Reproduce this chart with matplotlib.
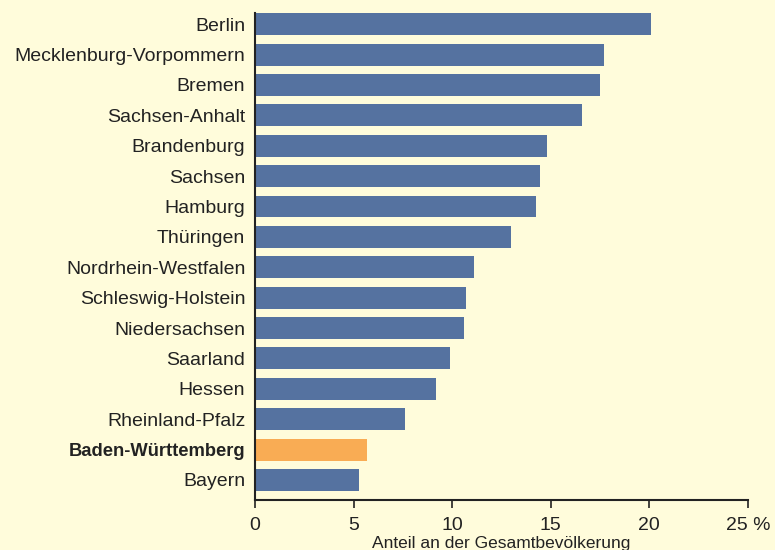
import matplotlib
matplotlib.use("Agg")
import matplotlib.pyplot as plt

states = ["Berlin", "Mecklenburg-Vorpommern", "Bremen", "Sachsen-Anhalt", "Brandenburg",
          "Sachsen", "Hamburg", "Thüringen", "Nordrhein-Westfalen", "Schleswig-Holstein",
          "Niedersachsen", "Saarland", "Hessen", "Rheinland-Pfalz", "Baden-Württemberg", "Bayern"]
values = [20.1, 17.7, 17.5, 16.6, 14.8, 14.45, 14.25, 13.0, 11.1, 10.7, 10.6, 9.9, 9.2, 7.6, 5.7, 5.3]
highlight = "Baden-Württemberg"
xticks = [0, 5, 10, 15, 20, 25]
xticklabels = ["0", "5", "10", "15", "20", "25 %"]
xlabel = "Anteil an der Gesamtbevölkerung"

bg = "#FFFCDB"
blue = "#5572A0"
orange = "#F9AC54"
textc = "#222222"

plt.rcParams['font.family'] = ['Liberation Sans', 'DejaVu Sans']

fig = plt.figure(figsize=(7.75, 5.5), dpi=100, facecolor=bg)
ax = fig.add_axes([0.329, 0.0909, 0.636, 0.885])
ax.set_facecolor(bg)

ypos = list(range(len(states)))
colors = [orange if s == highlight else blue for s in states]
ax.barh(ypos, values, height=0.72, color=colors, zorder=2)

ax.set_ylim(len(states) - 1 + 0.66, -0.36)
ax.set_xlim(0, 25)
ax.set_yticks(ypos)
ax.set_yticklabels(states, fontsize=14, color=textc)
for lbl in ax.get_yticklabels():
    if lbl.get_text() == highlight:
        lbl.set_fontweight("bold")
        lbl.set_fontsize(13.2)
ax.tick_params(axis="y", length=0, pad=7)
ax.set_xticks(xticks)
ax.set_xticklabels(xticklabels, fontsize=14, color=textc)
ax.tick_params(axis="x", direction="out", length=6, width=1.2, color=textc, pad=6)
for s in ["top", "right"]:
    ax.spines[s].set_visible(False)
for s in ["left", "bottom"]:
    ax.spines[s].set_color(textc)
    ax.spines[s].set_linewidth(1.5)
ax.set_xlabel(xlabel, fontsize=12.5, color=textc, labelpad=2)

fig.savefig("out.png", dpi=100, facecolor=bg)
